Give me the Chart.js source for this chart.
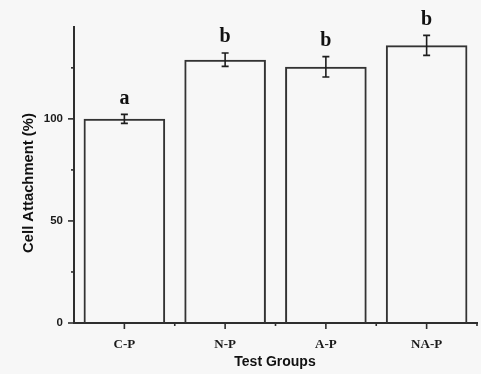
<!DOCTYPE html>
<html>
<head>
<meta charset="utf-8">
<script src="https://cdn.jsdelivr.net/npm/chart.js@4"></script>
<style>
  html, body { margin: 0; padding: 0; background: #f7f7f7; }
  #wrap { width: 481px; height: 374px; position: relative; }
</style>
</head>
<body>
<div id="wrap"><canvas id="chart" width="481" height="374"></canvas></div>
<script>
// Cell attachment per test group (mean ± error)
const groups = ["C-P", "N-P", "A-P", "NA-P"];
const attachment = [100, 129, 125.5, 136];
const attachmentErr = [2.2, 3.3, 5, 4.9];
const sigLetters = ["a", "b", "b", "b"];
const yLabelTicks = [0, 50, 100];

const AXIS_COLOR = "#2e2e2e";
const SANS = "'Liberation Sans', Arial, sans-serif";
const SERIF = "'Liberation Serif', 'Times New Roman', serif";

// error bars, significance letters, hand-drawn tick marks and axis titles
const annotate = {
  id: "annotate",
  afterDatasetsDraw(chart) {
    const { ctx, scales: { x, y }, chartArea } = chart;
    ctx.save();

    // error bars
    ctx.strokeStyle = "#1e1e1e";
    ctx.lineWidth = 1.6;
    groups.forEach((g, i) => {
      const cx = x.getPixelForValue(i);
      const hi = y.getPixelForValue(attachment[i] + attachmentErr[i]);
      const lo = y.getPixelForValue(attachment[i] - attachmentErr[i]);
      ctx.beginPath();
      ctx.moveTo(cx, hi); ctx.lineTo(cx, lo);
      ctx.moveTo(cx - 3.5, hi); ctx.lineTo(cx + 3.5, hi);
      ctx.moveTo(cx - 3.5, lo); ctx.lineTo(cx + 3.5, lo);
      ctx.stroke();

      // significance letter above the error bar
      ctx.fillStyle = "#111";
      ctx.font = `bold 20px ${SERIF}`;
      ctx.textAlign = "center";
      ctx.textBaseline = "middle";
      ctx.fillText(sigLetters[i], cx, hi - 16);
    });

    // y ticks: major at 0/50/100, minor at 25/75/125
    ctx.strokeStyle = AXIS_COLOR;
    ctx.lineWidth = 1.6;
    for (let v = 0; v <= y.max; v += 25) {
      const py = y.getPixelForValue(v);
      const len = v % 50 === 0 ? 6 : 3;
      ctx.beginPath();
      ctx.moveTo(chartArea.left - len, py);
      ctx.lineTo(chartArea.left, py);
      ctx.stroke();
    }

    // x ticks: major at category centres, minor between categories
    const step = (chartArea.right - chartArea.left) / groups.length;
    groups.forEach((g, i) => {
      const cx = x.getPixelForValue(i);
      ctx.beginPath();
      ctx.moveTo(cx, chartArea.bottom);
      ctx.lineTo(cx, chartArea.bottom + 6);
      const bx = chartArea.left + step * (i + 1);
      ctx.moveTo(bx, chartArea.bottom);
      ctx.lineTo(bx, chartArea.bottom + 3);
      ctx.stroke();
    });

    // axis titles
    ctx.fillStyle = "#111";
    ctx.textAlign = "center";
    ctx.textBaseline = "middle";
    ctx.font = `bold 14px ${SANS}`;
    ctx.fillText("Test Groups", 275, 362);
    ctx.translate(29, 183);
    ctx.rotate(-Math.PI / 2);
    ctx.font = `bold 14.8px ${SANS}`;
    ctx.fillText("Cell Attachment (%)", 0, 0);

    ctx.restore();
  },
};

new Chart(document.getElementById("chart"), {
  type: "bar",
  data: {
    labels: groups,
    datasets: [{
      data: attachment,
      backgroundColor: "rgba(0,0,0,0)",
      borderColor: "#333",
      borderWidth: 2,
      categoryPercentage: 1,
      barPercentage: 0.81,
    }],
  },
  options: {
    responsive: false,
    animation: false,
    layout: { padding: { top: 27, right: 4, bottom: 0, left: 0 } },
    plugins: { legend: { display: false }, tooltip: { enabled: false } },
    scales: {
      x: {
        afterFit: (s) => { s.height = 51; },
        grid: { display: false, drawTicks: false },
        border: { display: true, color: AXIS_COLOR, width: 2 },
        ticks: {
          color: "#1a1a1a",
          font: { family: SERIF, size: 13, weight: "bold" },
          padding: 14,
        },
      },
      y: {
        min: 0,
        max: 145,
        afterFit: (s) => { s.width = 74; },
        grid: { display: false, drawTicks: false },
        border: { display: true, color: AXIS_COLOR, width: 2 },
        afterBuildTicks: (s) => { s.ticks = yLabelTicks.map((v) => ({ value: v })); },
        ticks: {
          color: "#1a1a1a",
          font: { family: SANS, size: 11.5, weight: "bold" },
          padding: 11,
        },
      },
    },
  },
  plugins: [annotate],
});
</script>
</body>
</html>
